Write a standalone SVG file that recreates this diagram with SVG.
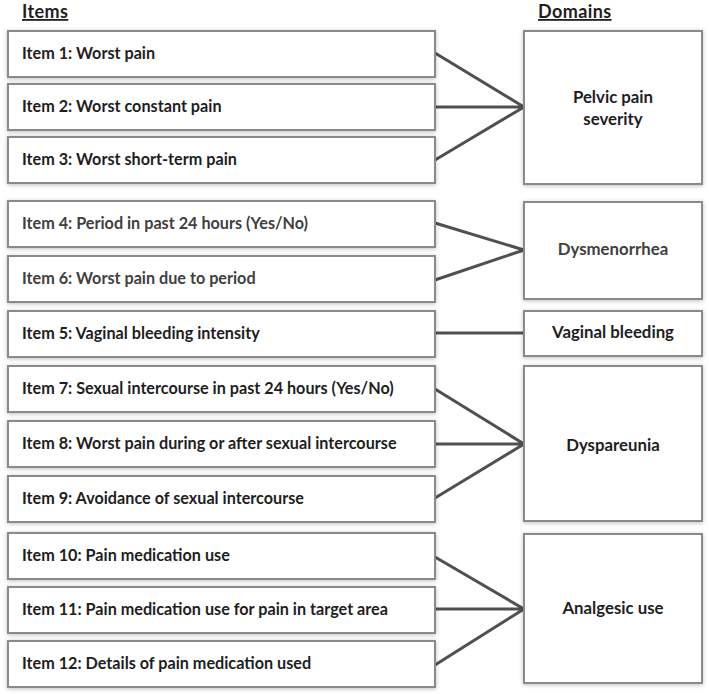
<svg xmlns="http://www.w3.org/2000/svg" width="709" height="694" viewBox="0 0 709 694">
<defs>
<filter id="sh" x="-10%" y="-20%" width="120%" height="140%">
<feDropShadow dx="0" dy="1" stdDeviation="2" flood-color="#000" flood-opacity="0.25"/>
</filter>
</defs>
<style>
.box{fill:#fff;stroke:#8a8a8a;stroke-width:2;filter:url(#sh)}
.t{font-family:Lato,"Liberation Sans",sans-serif;font-weight:bold;font-size:16.2px;fill:#1e1e1e}
.d{font-size:16.8px}
.g{fill:#404040}
.c{text-anchor:middle}
.h{font-family:Lato,"Liberation Sans",sans-serif;font-weight:bold;font-size:18px;letter-spacing:0.4px;fill:#1e1e1e;text-decoration:underline}
.ln{stroke:#505050;stroke-width:3;fill:none}
</style>
<rect width="709" height="694" fill="#fff"/>
<text class="h" x="22" y="18">Items</text>
<text class="h" x="538" y="18">Domains</text>
<g id="connectors">
<path class="ln" d="M435,53 L524,107 M435,107 L524,107 M435,160 L524,107"/>
<path class="ln" d="M435,223 L524,250 M435,280 L524,250"/>
<path class="ln" d="M435,333 L524,333"/>
<path class="ln" d="M435,389 L524,444 M435,444 L524,444 M435,498 L524,444"/>
<path class="ln" d="M435,557 L524,609 M435,609 L524,609 M435,665 L524,609"/>
</g>
<g id="item1"><rect class="box" x="8" y="31" width="427" height="46"/><text class="t" x="22" y="59">Item 1: Worst pain</text></g>
<g id="item2"><rect class="box" x="8" y="84" width="427" height="46"/><text class="t" x="22" y="112">Item 2: Worst constant pain</text></g>
<g id="item3"><rect class="box" x="8" y="137" width="427" height="46"/><text class="t" x="22" y="165">Item 3: Worst short-term pain</text></g>
<g id="item4"><rect class="box" x="8" y="201" width="427" height="46"/><text class="t g" x="22" y="229">Item 4: Period in past 24 hours (Yes/No)</text></g>
<g id="item6"><rect class="box" x="8" y="256" width="427" height="46"/><text class="t g" x="22" y="284">Item 6: Worst pain due to period</text></g>
<g id="item5"><rect class="box" x="8" y="311" width="427" height="46"/><text class="t" x="22" y="339">Item 5: Vaginal bleeding intensity</text></g>
<g id="item7"><rect class="box" x="8" y="366" width="427" height="46"/><text class="t" x="22" y="394">Item 7: Sexual intercourse in past 24 hours (Yes/No)</text></g>
<g id="item8"><rect class="box" x="8" y="421" width="427" height="46"/><text class="t" x="22" y="449">Item 8: Worst pain during or after sexual intercourse</text></g>
<g id="item9"><rect class="box" x="8" y="476" width="427" height="46"/><text class="t" x="22" y="504">Item 9: Avoidance of sexual intercourse</text></g>
<g id="item10"><rect class="box" x="8" y="533" width="427" height="46"/><text class="t" x="22" y="561">Item 10: Pain medication use</text></g>
<g id="item11"><rect class="box" x="8" y="587" width="427" height="46"/><text class="t" x="22" y="615">Item 11: Pain medication use for pain in target area</text></g>
<g id="item12"><rect class="box" x="8" y="641" width="427" height="46"/><text class="t" x="22" y="669">Item 12: Details of pain medication used</text></g>
<g id="pelvic"><rect class="box" x="524" y="31" width="178" height="153"/><text class="t d c" x="613" y="103">Pelvic pain</text><text class="t d c" x="613" y="125">severity</text></g>
<g id="dysmenorrhea"><rect class="box" x="524" y="202" width="178" height="97"/><text class="t d c g" x="613" y="255">Dysmenorrhea</text></g>
<g id="vaginal"><rect class="box" x="524" y="311" width="178" height="45"/><text class="t d c" x="613" y="338">Vaginal bleeding</text></g>
<g id="dyspareunia"><rect class="box" x="524" y="366" width="178" height="155"/><text class="t d c" x="613" y="451">Dyspareunia</text></g>
<g id="analgesic"><rect class="box" x="524" y="534" width="178" height="149"/><text class="t d c" x="613" y="614">Analgesic use</text></g>
</svg>
